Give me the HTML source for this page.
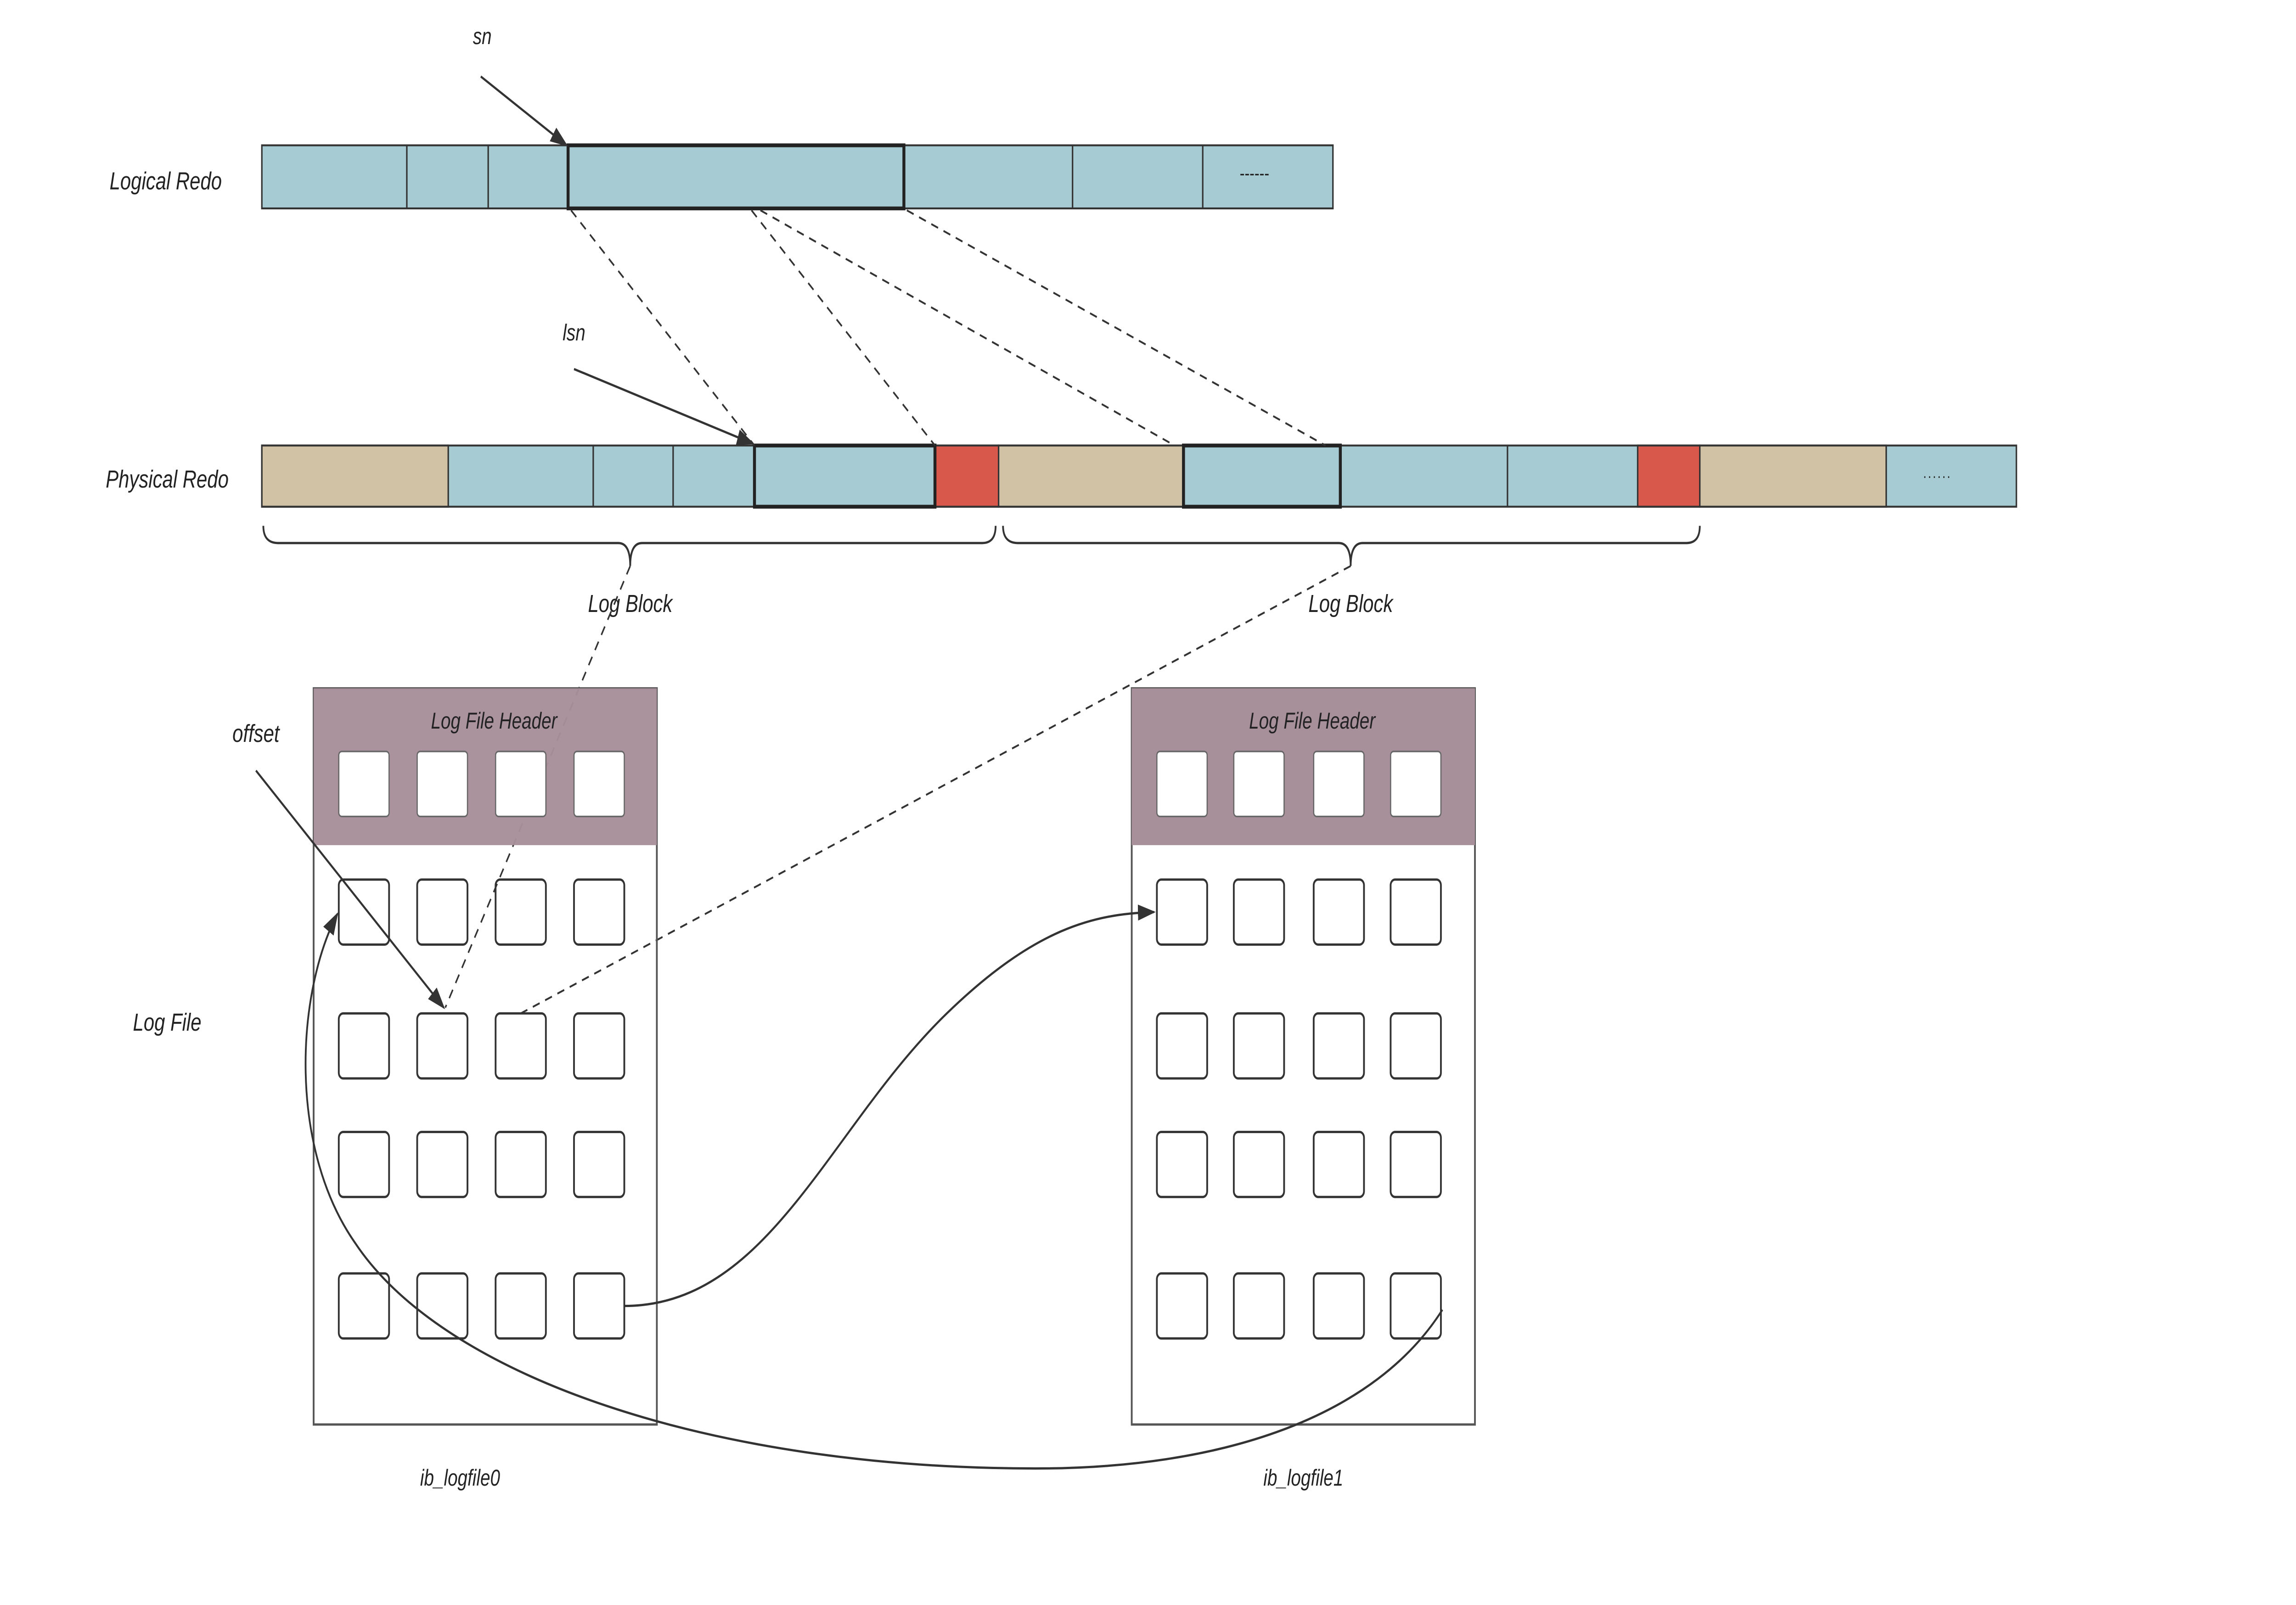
<!DOCTYPE html>
<html><head><meta charset="utf-8"><meta name="viewport" content="width=6464, initial-scale=1"><style>
html,body{margin:0;padding:0;background:#fff;width:100%;height:100%;overflow:hidden}
svg{display:block;position:fixed;left:0;top:0;width:100vw;height:100vh}
text{font-family:"Liberation Sans",sans-serif;font-style:italic;fill:#222}
</style></head><body>
<svg viewBox="0 0 1552 839.4" preserveAspectRatio="none" xmlns="http://www.w3.org/2000/svg">
<defs>
<marker id="ar2" viewBox="0 0 10 10" refX="9" refY="5" markerWidth="12" markerHeight="12" orient="auto" markerUnits="userSpaceOnUse"><path d="M0,1.5 L10,5 L0,8.5 z" fill="#333"/></marker>
</defs>
<rect width="1552" height="839.4" fill="#fff"/>

<g stroke="#333" stroke-width="1">
<rect x="177" y="76" width="724" height="33" fill="#a6cbd2"/>
<line x1="275" y1="76" x2="275" y2="109"/><line x1="330" y1="76" x2="330" y2="109"/>
<line x1="725" y1="76" x2="725" y2="109"/><line x1="813" y1="76" x2="813" y2="109"/>
<rect x="384" y="76" width="227" height="33" fill="#a6cbd2" stroke="#222" stroke-width="2"/>
</g>
<text x="838" y="94" style="font-size:10px;font-style:normal">------</text>
<text x="112" y="99" text-anchor="middle" style="font-size:13px">Logical Redo</text>

<g stroke="#333" stroke-width="1">
<rect x="177" y="233" width="1186" height="32" fill="#a6cbd2"/>
<rect x="177" y="233" width="126" height="32" fill="#d1c1a5"/>
<line x1="401" y1="233" x2="401" y2="265"/><line x1="455" y1="233" x2="455" y2="265"/>
<rect x="632" y="233" width="43" height="32" fill="#d9584c"/>
<rect x="675" y="233" width="125" height="32" fill="#d1c1a5"/>
<line x1="1019" y1="233" x2="1019" y2="265"/>
<rect x="1107" y="233" width="42" height="32" fill="#d9584c"/>
<rect x="1149" y="233" width="126" height="32" fill="#d1c1a5"/>
<rect x="510" y="233" width="122" height="32" fill="#a6cbd2" stroke="#222" stroke-width="2"/>
<rect x="800" y="233" width="106" height="32" fill="#a6cbd2" stroke="#222" stroke-width="2"/>
</g>
<text x="1300" y="250" style="font-size:8px;font-style:normal;letter-spacing:1px">......</text>
<text x="113" y="255" text-anchor="middle" style="font-size:13px">Physical Redo</text>

<g fill="none" stroke="#333" stroke-width="1.2">
<path d="M178,275 Q178,284 188,284 L418,284 Q426,284 426,296 Q426,284 434,284 L664,284 Q673,284 673,275"/>
<path d="M678,275 Q678,284 688,284 L905,284 Q913,284 913,296 Q913,284 921,284 L1140,284 Q1149,284 1149,275"/>
</g>
<text x="426" y="320" text-anchor="middle" style="font-size:13px">Log Block</text>
<text x="913" y="320" text-anchor="middle" style="font-size:13px">Log Block</text>

<text x="326" y="23" text-anchor="middle" style="font-size:12px">sn</text>
<line x1="325" y1="40" x2="383" y2="76" stroke="#333" stroke-width="1.2" marker-end="url(#ar2)"/>
<text x="388" y="178" text-anchor="middle" style="font-size:12px">lsn</text>
<line x1="388" y1="193" x2="509" y2="232" stroke="#333" stroke-width="1.2" marker-end="url(#ar2)"/>

<g stroke="#333" stroke-width="1" stroke-dasharray="5,4" fill="none">
<line x1="386" y1="110" x2="510" y2="233"/>
<line x1="508" y1="110" x2="632" y2="233"/>
<line x1="514" y1="110" x2="794" y2="233"/>
<line x1="613" y1="110" x2="896" y2="233"/>
<line x1="426" y1="296" x2="301" y2="527"/>
<line x1="913" y1="296" x2="352" y2="530"/>
</g>

<g>
<rect x="212" y="360" width="232" height="385" fill="none" stroke="#555" stroke-width="1.2"/>
<rect x="212" y="360" width="232" height="82" fill="#a8909a" fill-opacity="0.97"/>
<text x="334" y="381" text-anchor="middle" style="font-size:12px">Log File Header</text>
<g fill="#fff" stroke="#666" stroke-width="0.8">
<rect x="229" y="393" width="34" height="34" rx="2"/><rect x="282" y="393" width="34" height="34" rx="2"/>
<rect x="335" y="393" width="34" height="34" rx="2"/><rect x="388" y="393" width="34" height="34" rx="2"/>
</g>
<g fill="none" stroke="#333" stroke-width="1.2">
<rect x="229" y="460" width="34" height="34" rx="3"/><rect x="282" y="460" width="34" height="34" rx="3"/><rect x="335" y="460" width="34" height="34" rx="3"/><rect x="388" y="460" width="34" height="34" rx="3"/>
<rect x="229" y="530" width="34" height="34" rx="3"/><rect x="282" y="530" width="34" height="34" rx="3"/><rect x="335" y="530" width="34" height="34" rx="3"/><rect x="388" y="530" width="34" height="34" rx="3"/>
<rect x="229" y="592" width="34" height="34" rx="3"/><rect x="282" y="592" width="34" height="34" rx="3"/><rect x="335" y="592" width="34" height="34" rx="3"/><rect x="388" y="592" width="34" height="34" rx="3"/>
<rect x="229" y="666" width="34" height="34" rx="3"/><rect x="282" y="666" width="34" height="34" rx="3"/><rect x="335" y="666" width="34" height="34" rx="3"/><rect x="388" y="666" width="34" height="34" rx="3"/>
</g>
</g>
<g>
<rect x="765" y="360" width="232" height="385" fill="none" stroke="#555" stroke-width="1.2"/>
<rect x="765" y="360" width="232" height="82" fill="#a8909a"/>
<text x="887" y="381" text-anchor="middle" style="font-size:12px">Log File Header</text>
<g fill="#fff" stroke="#666" stroke-width="0.8">
<rect x="782" y="393" width="34" height="34" rx="2"/><rect x="834" y="393" width="34" height="34" rx="2"/>
<rect x="888" y="393" width="34" height="34" rx="2"/><rect x="940" y="393" width="34" height="34" rx="2"/>
</g>
<g fill="none" stroke="#333" stroke-width="1.2">
<rect x="782" y="460" width="34" height="34" rx="3"/><rect x="834" y="460" width="34" height="34" rx="3"/><rect x="888" y="460" width="34" height="34" rx="3"/><rect x="940" y="460" width="34" height="34" rx="3"/>
<rect x="782" y="530" width="34" height="34" rx="3"/><rect x="834" y="530" width="34" height="34" rx="3"/><rect x="888" y="530" width="34" height="34" rx="3"/><rect x="940" y="530" width="34" height="34" rx="3"/>
<rect x="782" y="592" width="34" height="34" rx="3"/><rect x="834" y="592" width="34" height="34" rx="3"/><rect x="888" y="592" width="34" height="34" rx="3"/><rect x="940" y="592" width="34" height="34" rx="3"/>
<rect x="782" y="666" width="34" height="34" rx="3"/><rect x="834" y="666" width="34" height="34" rx="3"/><rect x="888" y="666" width="34" height="34" rx="3"/><rect x="940" y="666" width="34" height="34" rx="3"/>
</g>
</g>

<text x="173" y="388" text-anchor="middle" style="font-size:13px">offset</text>
<line x1="173" y1="403" x2="300" y2="527" stroke="#333" stroke-width="1.2" marker-end="url(#ar2)"/>

<g fill="none" stroke="#333" stroke-width="1.2">
<path d="M422,683 C520,683 560,590 640,530 C700,485 740,478 780,477" marker-end="url(#ar2)"/>
<path d="M975,685 C930,740 830,768 700,768 C480,768 300,720 240,650 C195,600 200,520 228,478" marker-end="url(#ar2)"/>
</g>

<text x="113" y="539" text-anchor="middle" style="font-size:13px">Log File</text>
<text x="311" y="777" text-anchor="middle" style="font-size:12px">ib_logfile0</text>
<text x="881" y="777" text-anchor="middle" style="font-size:12px">ib_logfile1</text>
</svg>
</body></html>
